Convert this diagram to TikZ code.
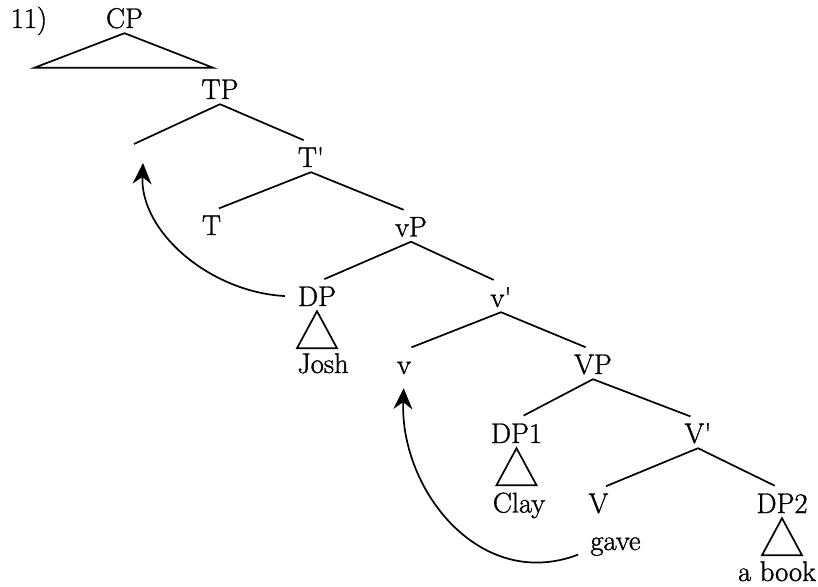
\documentclass[tikz,border=0pt]{standalone}
\usepackage{fontspec}
\setmainfont{Latin Modern Roman}[FakeBold=1.2]
\usetikzlibrary{arrows.meta}
\begin{document}
\begin{tikzpicture}[x=1pt,y=-1pt,
  lbl/.style={inner xsep=0pt, inner ysep=5pt, text height=18.5pt, text depth=0pt,
              anchor=base, font=\fontsize{28.5}{33}\selectfont},
  branch/.style={line width=1.7pt, shorten >=8pt},
  roof/.style={line width=1.7pt, line join=miter},
  move/.style={line width=1.7pt, shorten <=13pt,
               -{Stealth[length=21pt,width=19pt,inset=7pt]}}
]
\useasboundingbox (0,0) rectangle (818,586);

% labels
\node[lbl] (num)  at (29,28)    {11)};
\node[lbl] (CP)   at (124.5,28) {CP};
\node[lbl] (TP)   at (220,99)   {TP};
\node[lbl] (Tbar) at (311,167)  {T\textquotesingle};
\node[lbl] (T)    at (211.5,235){T};
\node[lbl] (vP)   at (411,236.5){vP};
\node[lbl] (DP)   at (317,306)  {DP};
\node[lbl] (vbar) at (501,307)  {v\textquotesingle};
\node[lbl] (Josh) at (323,373)  {Josh};
\node[lbl] (v)    at (404,374)  {v};
\node[lbl] (VP)   at (593,374)  {VP};
\node[lbl] (DPa)  at (516.5,443){DP1};
\node[lbl] (Vbar) at (698,443)  {V\textquotesingle};
\node[lbl] (Clay) at (519,512.5){Clay};
\node[lbl] (V)    at (598.5,513){V};
\node[lbl] (DPb)  at (782,513)  {DP2};
\node[lbl] (gave) at (615.5,550){gave};
\node[lbl] (book) at (777,581)  {a book};

\coordinate (spec) at (134,144);
\coordinate (spectrace) at (143,163);

% roofs
\draw[roof] (CP.south) -- +(-90,34.5) -- +(88.5,34.5) -- cycle;
\draw[roof] (DP.south) -- +(-20,37) -- +(20,37) -- cycle;
\draw[roof] (DPa.south) -- +(-20,37) -- +(20,37) -- cycle;
\draw[roof] (DPb.south) -- +(-20,37) -- +(20,37) -- cycle;

% branches
\draw[branch, shorten >=0pt] (TP.south) -- (spec);
\draw[branch] (TP.south) -- (Tbar.north);
\draw[branch] (Tbar.south) -- (T.north);
\draw[branch] (Tbar.south) -- (vP.north);
\draw[branch] (vP.south) -- (DP.north);
\draw[branch] (vP.south) -- (vbar.north);
\draw[branch] (vbar.south) -- (v.north);
\draw[branch] (vbar.south) -- (VP.north);
\draw[branch] (VP.south) -- (DPa.north);
\draw[branch] (VP.south) -- (Vbar.north);
\draw[branch] (Vbar.south) -- (V.north);
\draw[branch] (Vbar.south) -- (DPb.north);

% movement arrows
\draw[move] (DP.west) .. controls (210,292) and (140,232) .. (spectrace);
\draw[move, shorten >=9pt] (gave.base west) .. controls (480,592) and (400,490) .. (v.south);
\end{tikzpicture}
\end{document}
